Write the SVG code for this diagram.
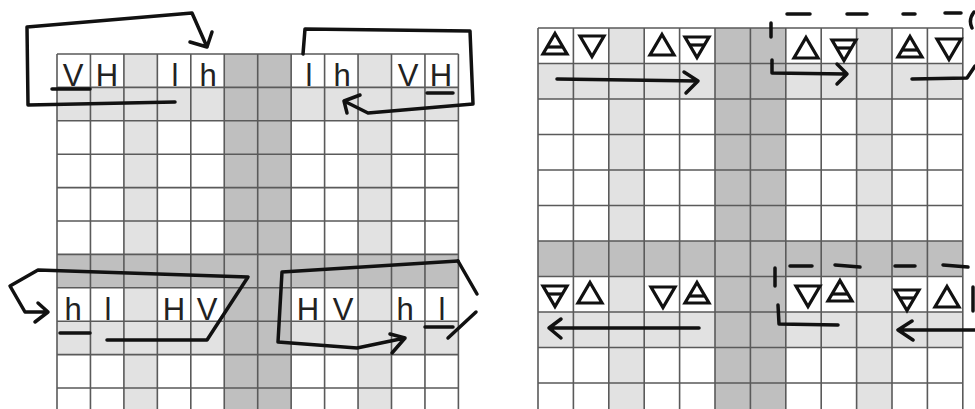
<svg xmlns="http://www.w3.org/2000/svg" xmlns:xlink="http://www.w3.org/1999/xlink" width="975" height="409" viewBox="0 0 975 409">
<style>
.light{fill:#e2e2e2}
.mid{fill:#bfbfbf}
.gl{stroke:#5a5a5a;stroke-width:1.6;fill:none}
.lbl{font-family:"Liberation Sans","DejaVu Sans",sans-serif;font-size:31px;fill:#222;text-anchor:middle}
.ink{stroke:#111;stroke-width:3.5;fill:none;stroke-linecap:round;stroke-linejoin:round}
.dash{stroke:#111;stroke-width:3.5;fill:none;stroke-linecap:round}
.tri{stroke:#111;stroke-width:3.2;fill:none;stroke-linejoin:miter}
</style>
<defs>
<g id="tu"><polygon class="tri" points="0,-10.5 12,10 -12,10"/></g>
<g id="tub"><polygon class="tri" points="0,-10.5 12,10 -12,10"/><line class="tri" x1="-8" y1="3" x2="8" y2="3"/></g>
<g id="td"><polygon class="tri" points="-12,-10 12,-10 0,10.5"/></g>
<g id="tdb"><polygon class="tri" points="-12,-10 12,-10 0,10.5"/><line class="tri" x1="-7.5" y1="-2" x2="7.5" y2="-2"/></g>
</defs>
<rect width="975" height="409" fill="#fff"/>

<g id="grid-left">
<rect class="light" x="57" y="87.4" width="401.4" height="33.4"/>
<rect class="light" x="57" y="321.2" width="401.4" height="33.4"/>
<rect class="light" x="123.9" y="54" width="33.45" height="355"/>
<rect class="light" x="358.05" y="54" width="33.45" height="355"/>
<rect class="mid" x="224.25" y="54" width="66.9" height="355"/>
<rect class="mid" x="57" y="254.4" width="401.4" height="33.4"/>
<path class="gl" d="M57,54V409M90.45,54V409M123.9,54V409M157.35,54V409M190.8,54V409M224.25,54V409M257.7,54V409M291.15,54V409M324.6,54V409M358.05,54V409M391.5,54V409M424.95,54V409M458.4,54V409
M57,54H458.4M57,87.4H458.4M57,120.8H458.4M57,154.2H458.4M57,187.6H458.4M57,221H458.4M57,254.4H458.4M57,287.8H458.4M57,321.2H458.4M57,354.6H458.4M57,388H458.4"/>
</g>

<g id="grid-right">
<rect class="light" x="538" y="63.5" width="424.8" height="35.5"/>
<rect class="light" x="538" y="312" width="424.8" height="35.5"/>
<rect class="light" x="608.8" y="28" width="35.4" height="381"/>
<rect class="light" x="856.6" y="28" width="35.4" height="381"/>
<rect class="mid" x="715" y="28" width="70.8" height="381"/>
<rect class="mid" x="538" y="241" width="424.8" height="35.5"/>
<path class="gl" d="M538,28V409M573.4,28V409M608.8,28V409M644.2,28V409M679.6,28V409M715,28V409M750.4,28V409M785.8,28V409M821.2,28V409M856.6,28V409M892,28V409M927.4,28V409M962.8,28V409
M538,28H962.8M538,63.5H962.8M538,99H962.8M538,134.5H962.8M538,170H962.8M538,205.5H962.8M538,241H962.8M538,276.5H962.8M538,312H962.8M538,347.5H962.8M538,383H962.8"/>
</g>

<g id="labels-left">
<text class="lbl" x="73" y="86">V</text>
<text class="lbl" x="107" y="86">H</text>
<text class="lbl" x="175" y="86">l</text>
<text class="lbl" x="208" y="86">h</text>
<text class="lbl" x="309" y="86">l</text>
<text class="lbl" x="342" y="86">h</text>
<text class="lbl" x="408" y="86">V</text>
<text class="lbl" x="441" y="86">H</text>
<text class="lbl" x="73" y="320">h</text>
<text class="lbl" x="108" y="320">l</text>
<text class="lbl" x="174" y="320">H</text>
<text class="lbl" x="207" y="320">V</text>
<text class="lbl" x="308" y="320">H</text>
<text class="lbl" x="343" y="320">V</text>
<text class="lbl" x="405" y="320">h</text>
<text class="lbl" x="442" y="320">l</text>
</g>

<g id="symbols-right">
<use xlink:href="#tub" x="555" y="44"/>
<use xlink:href="#td" x="592" y="46"/>
<use xlink:href="#tu" x="662" y="45"/>
<use xlink:href="#tdb" x="697" y="47"/>
<use xlink:href="#tu" x="806" y="48"/>
<use xlink:href="#tdb" x="844" y="50"/>
<use xlink:href="#tub" x="910" y="47"/>
<use xlink:href="#td" x="949" y="49"/>
<use xlink:href="#tdb" x="555" y="296"/>
<use xlink:href="#tu" x="590" y="293"/>
<use xlink:href="#td" x="663" y="297"/>
<use xlink:href="#tub" x="697" y="293"/>
<use xlink:href="#td" x="808" y="296"/>
<use xlink:href="#tub" x="840" y="291"/>
<use xlink:href="#tdb" x="907" y="300"/>
<use xlink:href="#tu" x="947" y="297"/>
</g>

<g id="connectors">
<!-- left grid, top -->
<path class="ink" d="M52,89H90"/>
<path class="ink" d="M175,102L28,105L27,27L192,13L207,47M190,42L207,47L212,32"/>
<path class="ink" d="M427,93H453"/>
<path class="ink" d="M303,54L305,29L470,31L473,104L368,113L344,101M360,95L344,101L347,113"/>
<!-- left grid, bottom -->
<path class="ink" d="M60,333H90"/>
<path class="ink" d="M107,340H207L248,277L38,270L10,286L25,312H48M38,303L48,312L35,322"/>
<path class="ink" d="M425,327H453"/>
<path class="ink" d="M458,261L282,272L278,342L357,348L405,338M390,334L405,338L392,353"/>
<path class="ink" d="M458,261L477,294"/>
<path class="ink" d="M448,338L476,312"/>
<!-- right grid, top -->
<path class="ink" d="M557,79L698,81M684,72L698,81L686,93"/>
<path class="dash" d="M787,14H810M847,14H867M903,14H915M945,13H961M771,23V37"/>
<path class="ink" d="M974,12Q968,20 972,28"/>
<path class="ink" d="M772,60L772,73L846,74M837,64L847,74L837,84"/>
<path class="ink" d="M912,79L967,78L975,66"/>
<!-- right grid, bottom -->
<path class="ink" d="M699,328H549M561,319L549,328L561,338"/>
<path class="dash" d="M790,266H812M835,265L860,267M895,266H915M943,265L968,267M775,268V286"/>
<path class="ink" d="M778,305L779,324L838,325"/>
<path class="ink" d="M975,330H898M912,321L898,330L913,340"/>
<path class="ink" d="M973,287V311"/>
</g>
</svg>
